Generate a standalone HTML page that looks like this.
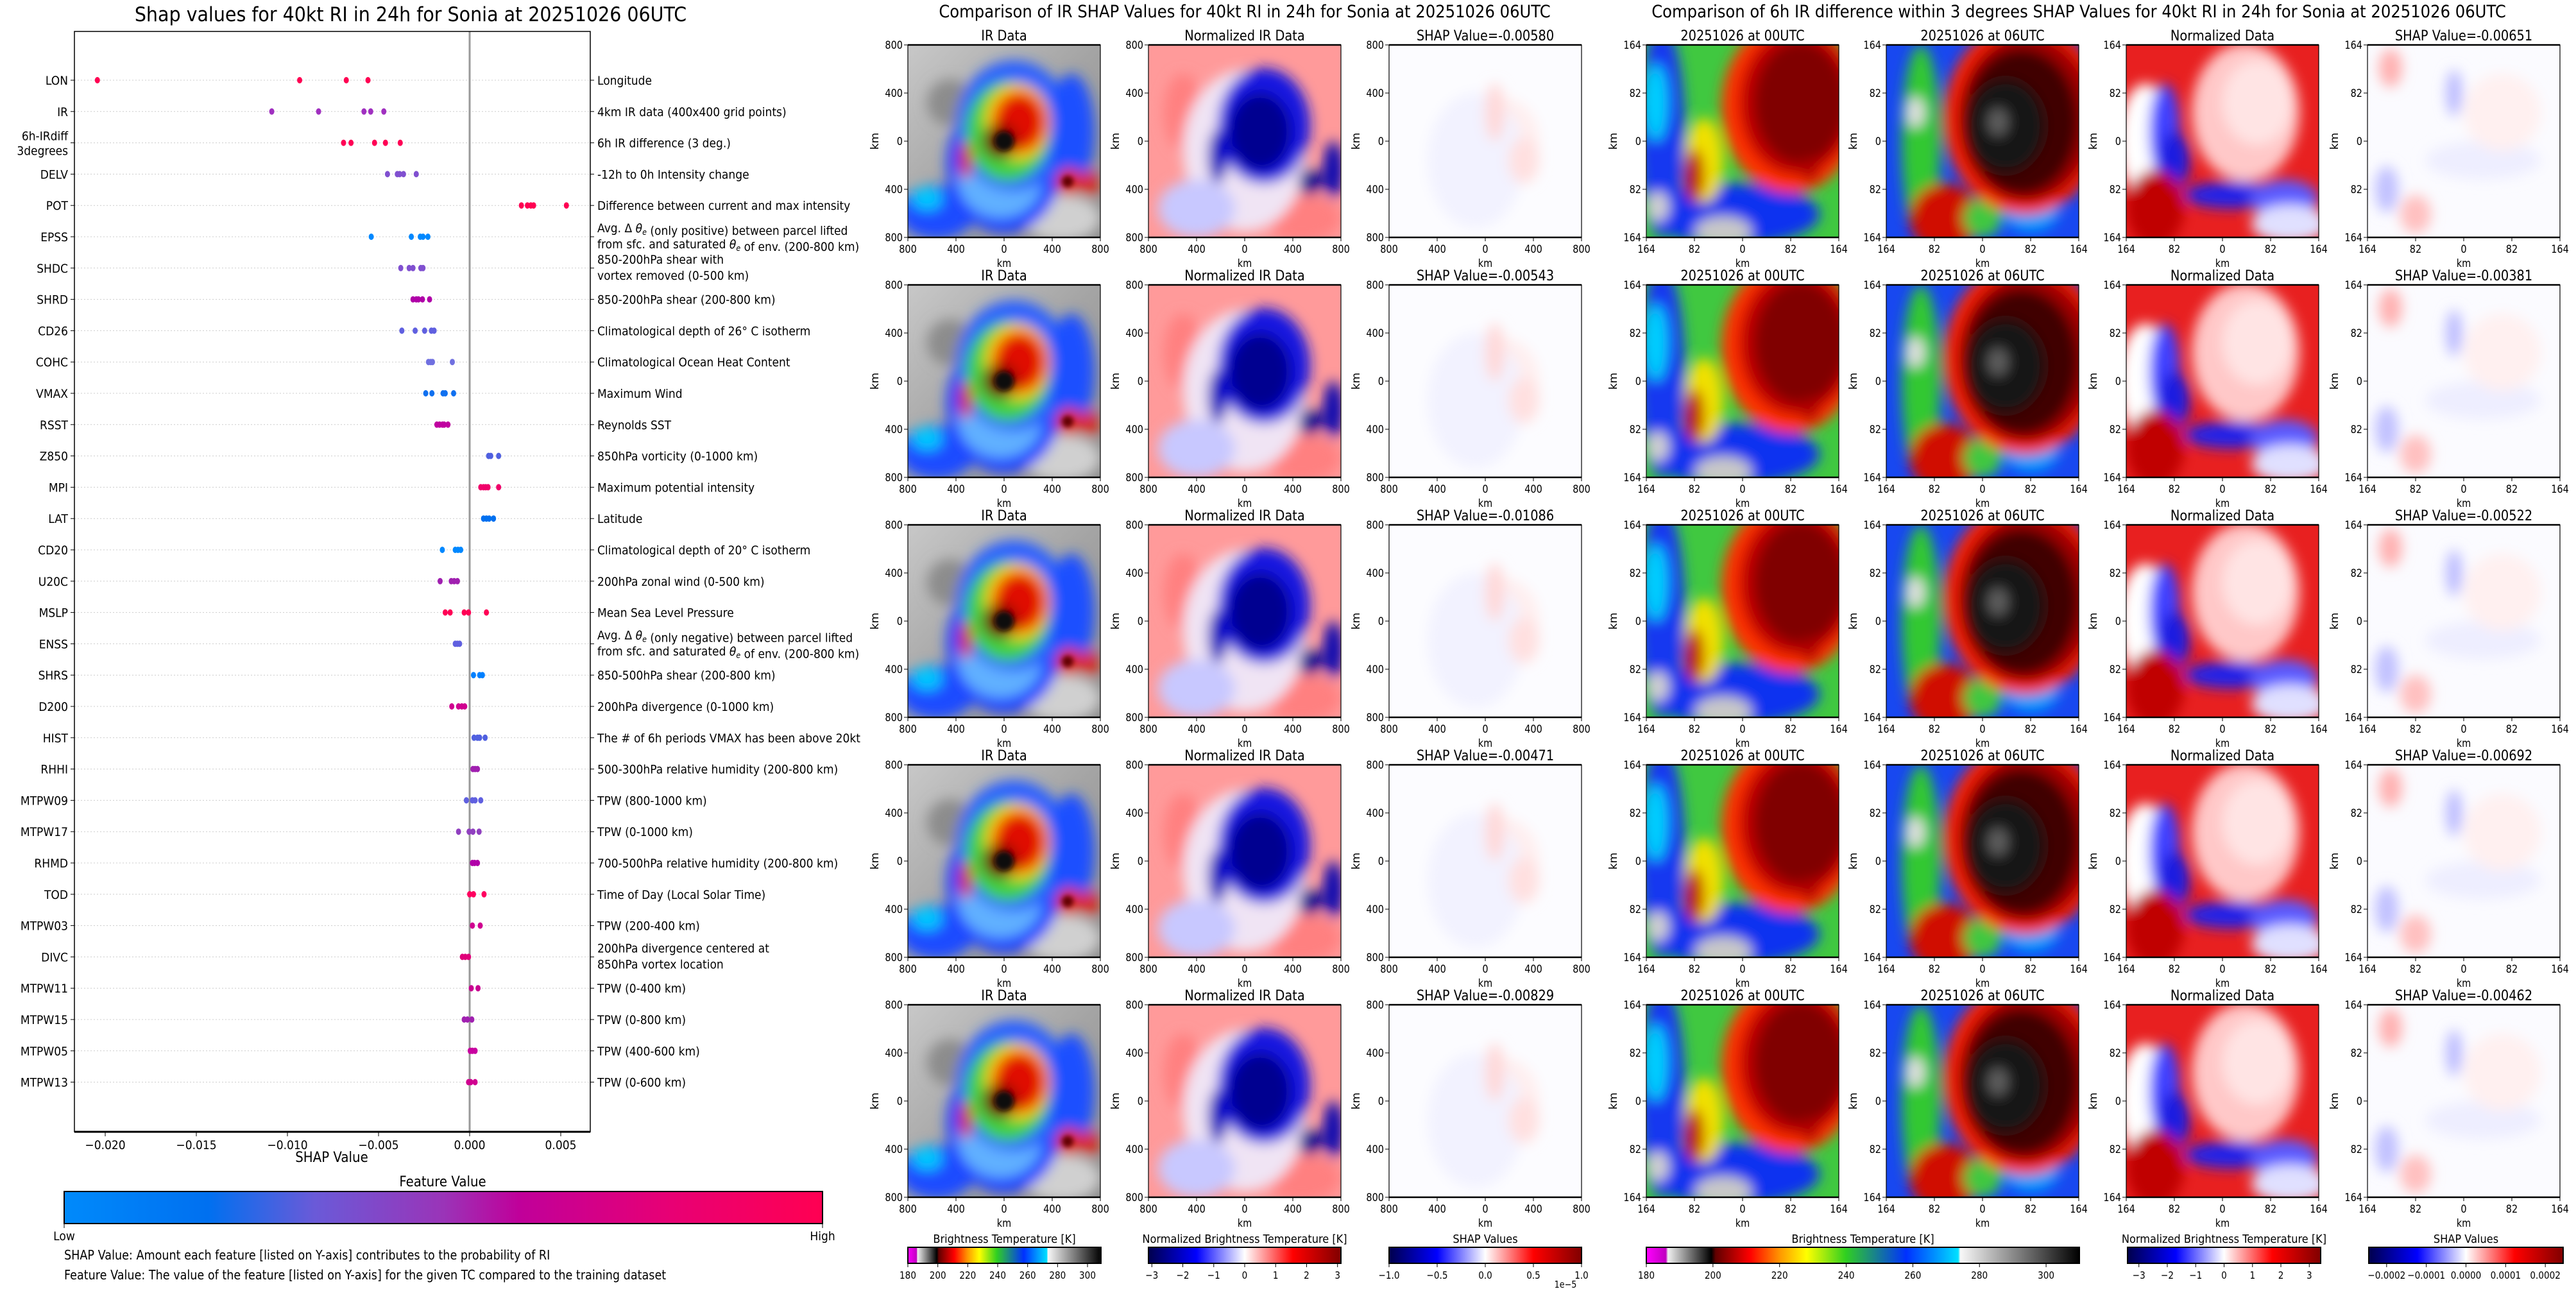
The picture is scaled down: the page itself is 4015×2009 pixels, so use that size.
<!DOCTYPE html>
<html><head><meta charset="utf-8"><style>
html,body{margin:0;padding:0;background:#fff;}
svg{display:block;font-family:"DejaVu Sans","Liberation Sans",sans-serif;}
</style></head><body>
<svg id="c" xmlns="http://www.w3.org/2000/svg" width="4015" height="2009" viewBox="0 0 4015 2009">
<defs>
<filter id="b12" x="-20%" y="-20%" width="140%" height="140%"><feGaussianBlur stdDeviation="10"/></filter>
<filter id="b5" x="-20%" y="-20%" width="140%" height="140%"><feGaussianBlur stdDeviation="4"/></filter>
<linearGradient id="shapcb" x1="0" x2="1" y1="0" y2="0">
<stop offset="0" stop-color="#008afb"/><stop offset="0.19" stop-color="#0070f0"/><stop offset="0.33" stop-color="#6a5ad8"/><stop offset="0.5" stop-color="#9a34b8"/><stop offset="0.6" stop-color="#c0009a"/><stop offset="0.8" stop-color="#e80074"/><stop offset="1" stop-color="#ff0052"/></linearGradient>
<linearGradient id="seismic" x1="0" x2="1" y1="0" y2="0">
<stop offset="0" stop-color="#00004c"/><stop offset="0.25" stop-color="#0000ff"/><stop offset="0.5" stop-color="#ffffff"/><stop offset="0.75" stop-color="#ff0000"/><stop offset="1" stop-color="#800000"/></linearGradient>
<linearGradient id="irmap" x1="0" x2="1" y1="0" y2="0">
<stop offset="0" stop-color="#ff00ff"/><stop offset="0.045" stop-color="#c000c0"/><stop offset="0.05" stop-color="#f0f0f0"/><stop offset="0.15" stop-color="#000000"/><stop offset="0.16" stop-color="#600000"/><stop offset="0.24" stop-color="#ff0000"/><stop offset="0.31" stop-color="#ff9a00"/><stop offset="0.37" stop-color="#ffff00"/><stop offset="0.46" stop-color="#30d020"/><stop offset="0.6" stop-color="#0030ff"/><stop offset="0.72" stop-color="#00e0ff"/><stop offset="0.725" stop-color="#f8f8f8"/><stop offset="1" stop-color="#000000"/></linearGradient>
<linearGradient id="graybg" x1="0" x2="1" y1="0" y2="1">
<stop offset="0" stop-color="#c8c8c8"/><stop offset="0.5" stop-color="#a4a4a4"/><stop offset="1" stop-color="#8c8c8c"/></linearGradient>
</defs>
<g id="root"></g>
</svg>
<script>
const features=["LON","IR","6h-IRdiff|3degrees","DELV","POT","EPSS","SHDC","SHRD","CD26","COHC","VMAX","RSST","Z850","MPI","LAT","CD20","U20C","MSLP","ENSS","SHRS","D200","HIST","RHHI","MTPW09","MTPW17","RHMD","TOD","MTPW03","DIVC","MTPW11","MTPW15","MTPW05","MTPW13"];
const descriptions=["Longitude","4km IR data (400x400 grid points)","6h IR difference (3 deg.)","-12h to 0h Intensity change","Difference between current and max intensity","Avg. Δ θe (only positive) between parcel lifted|from sfc. and saturated θe of env. (200-800 km)","850-200hPa shear with|vortex removed (0-500 km)","850-200hPa shear (200-800 km)","Climatological depth of 26° C isotherm","Climatological Ocean Heat Content","Maximum Wind","Reynolds SST","850hPa vorticity (0-1000 km)","Maximum potential intensity","Latitude","Climatological depth of 20° C isotherm","200hPa zonal wind (0-500 km)","Mean Sea Level Pressure","Avg. Δ θe (only negative) between parcel lifted|from sfc. and saturated θe of env. (200-800 km)","850-500hPa shear (200-800 km)","200hPa divergence (0-1000 km)","The # of 6h periods VMAX has been above 20kt","500-300hPa relative humidity (200-800 km)","TPW (800-1000 km)","TPW (0-1000 km)","700-500hPa relative humidity (200-800 km)","Time of Day (Local Solar Time)","TPW (200-400 km)","200hPa divergence centered at|850hPa vortex location","TPW (0-400 km)","TPW (0-800 km)","TPW (400-600 km)","TPW (0-600 km)"];
const shapValues=[
[-0.02043,-0.00933,-0.00677,-0.00558],
[-0.01086,-0.00829,-0.00580,-0.00543,-0.00471],
[-0.00692,-0.00651,-0.00522,-0.00462,-0.00381],
[-0.00451,-0.00397,-0.00384,-0.00363,-0.00293],
[0.00284,0.00317,0.00336,0.00351,0.00531],
[-0.0054,-0.0032,-0.00271,-0.00256,-0.00229],
[-0.00378,-0.00332,-0.00311,-0.00268,-0.00256],
[-0.00311,-0.00293,-0.00281,-0.00259,-0.0022],
[-0.00372,-0.00299,-0.00247,-0.0021,-0.00195],
[-0.00226,-0.00214,-0.00204,-0.00095],
[-0.00241,-0.00207,-0.00146,-0.00134,-0.00088],
[-0.0018,-0.00165,-0.00149,-0.0014,-0.00119],
[0.00104,0.00116,0.00159],
[0.00061,0.00076,0.00088,0.00101,0.00159],
[0.00076,0.00092,0.00107,0.00131],
[-0.0015,-0.00079,-0.00064,-0.00049],
[-0.00162,-0.00101,-0.00085,-0.00067],
[-0.00134,-0.00107,-0.0003,-0.00006,0.00092],
[-0.00079,-0.00067,-0.00055],
[0.00021,0.00055,0.0007],
[-0.00098,-0.00061,-0.00043,-0.00027],
[0.00024,0.00043,0.00055,0.00085],
[0.00018,0.0003,0.00043],
[-0.00018,0.00015,0.0003,0.00061],
[-0.00061,-0.00003,0.00018,0.00052],
[0.00015,0.00027,0.00043],
[0,0.00021,0.00079],
[0.00015,0.00058],
[-0.0004,-0.00024,-0.00006],
[0.00009,0.00046],
[-0.0003,-0.00012,0.00012],
[0.00003,0.00015,0.0003],
[-0.00006,0.00006,0.0003]];
const dotColors=["#ff0052","#a030c0","#ff0055","#8050d0","#ff0052","#0088ff","#8050d0","#b000a8","#6060e0","#7070e0","#1070f0","#c000a0","#5060e0","#f0006a","#0070f0","#0088ff","#a020b0","#ff0055","#6060e0","#0080ff","#d00090","#5060e0","#a020b0","#6060e0","#9040c0","#b000a8","#ff0060","#d00090","#e0007a","#c80090","#a020b0","#c800a0","#d00090"];
const xTicks=[-0.02,-0.015,-0.01,-0.005,0,0.005];
const xTickLabels=["−0.020","−0.015","−0.010","−0.005","0.000","0.005"];
const irShap=[-0.00580,-0.00543,-0.01086,-0.00471,-0.00829];
const diffShap=[-0.00651,-0.00381,-0.00522,-0.00692,-0.00462];
const kmTicks=["800","400","0","400","800"];
const degTicks=["164","82","0","82","164"];
const cbIrTicks=[180,200,220,240,260,280,300];
const cbNormTicks=[-3,-2,-1,0,1,2,3];
const cbShapIrTicks=[-1.0,-0.5,0.0,0.5,1.0];
const cbShapDiffTicks=[-0.0002,-0.0001,0,0.0001,0.0002];
const cbShapDiffLabels=["−0.0002","−0.0001","0.0000","0.0001","0.0002"];

const NS="http://www.w3.org/2000/svg";
const root=document.getElementById('root');
function E(tag,attrs,parent){const e=document.createElementNS(NS,tag);for(const k in attrs)e.setAttribute(k,attrs[k]);(parent||root).appendChild(e);return e;}
function T(x,y,s,size,anchor,name,sx,parent){
  const t=E('text',{x:0,y:0,'font-size':size,'text-anchor':anchor||'start',fill:'#000',transform:`translate(${x},${y}) scale(${sx||1},1)`},parent);
  
  
  const m=s.split('θe');
  m.forEach((part,i)=>{ if(part){const sp=E('tspan',{},t);sp.textContent=part;} if(i<m.length-1){const a=E('tspan',{'font-style':'italic'},t);a.textContent='θ';const b=E('tspan',{'font-size':size*0.65,dy:4,'font-style':'italic'},t);b.textContent='e';const c=E('tspan',{dy:-4},t);c.textContent='';}});
  return t;
}
function xScale(v){return 732+v/0.005*142;}
function yScale(i){return 125+i*48.8;}

// ---------- SHAP summary panel ----------
T(640,33,"Shap values for 40kt RI in 24h for Sonia at 20251026 06UTC",31,'middle','shap-title',0.92);
const pl=116,pr=920,pt=49,pb=1764;
features.forEach((f,i)=>{
  const y=yScale(i);
  const g=E('line',{x1:pl,x2:pr,y1:y,y2:y,stroke:'#cccccc','stroke-width':1,'stroke-dasharray':'2,3'});
  
  
  E('line',{x1:pl-6,x2:pl,y1:y,y2:y,stroke:'#000'});
  E('line',{x1:pr,x2:pr+6,y1:y,y2:y,stroke:'#000'});
  const fl=f.split('|');
  if(fl.length===1) T(106,y+7,f,19,'end','feature-label',0.9);
  else {T(106,y-4,fl[0],19,'end','feature-label',0.9);T(106,y+19,fl[1],19,'end','feature-label',0.9);}
  const dl=descriptions[i].split('|');
  if(dl.length===1) T(931,y+7,dl[0],19,'start','feature-description',0.9);
  else {T(931,y-7,dl[0],19,'start','feature-description',0.9);T(931,y+18,dl[1],19,'start','feature-description',0.9);}
});
const zl=E('line',{x1:xScale(0),x2:xScale(0),y1:pt,y2:pb,stroke:'#999','stroke-width':3});


shapValues.forEach((row,i)=>{
  row.forEach(v=>{
    const d=E('ellipse',{cx:xScale(v),cy:yScale(i),rx:4,ry:5,fill:dotColors[i]});
    
    
  });
});
const fr=E('rect',{x:pl,y:pt,width:pr-pl,height:pb-pt,fill:'none',stroke:'#000','stroke-width':1.5});


E('line',{x1:pl,x2:pr,y1:pb,y2:pb,stroke:'#000','stroke-width':3});
xTicks.forEach((v,i)=>{
  E('line',{x1:xScale(v),x2:xScale(v),y1:pb,y2:pb+7,stroke:'#000'});
  T(xScale(v),pb+27,xTickLabels[i],19,'middle','x-tick-label',0.9);
});
T(517,pb+47,"SHAP Value",22,'middle','x-axis-title',0.9);
T(690,1849,"Feature Value",22,'middle','colorbar-title',0.9);
const cb=E('rect',{x:100,y:1857,width:1182,height:50,fill:'url(#shapcb)',stroke:'#000','stroke-width':2});


E('line',{x1:100,x2:100,y1:1907,y2:1914,stroke:'#000'});E('line',{x1:1282,x2:1282,y1:1907,y2:1914,stroke:'#000'});
T(100,1933,"Low",19,'middle','colorbar-low',0.9);
T(1282,1933,"High",19,'middle','colorbar-high',0.9);
T(100,1963,"SHAP Value: Amount each feature [listed on Y-axis] contributes to the probability of RI",20,'start','note-shap',0.88);
T(100,1994,"Feature Value: The value of the feature [listed on Y-axis] for the given TC compared to the training dataset",20,'start','note-feature',0.88);

// ---------- image panels ----------
T(1940,27,"Comparison of IR SHAP Values for 40kt RI in 24h for Sonia at 20251026 06UTC",27,'middle','ir-group-title',0.9);
T(3240,27,"Comparison of 6h IR difference within 3 degrees SHAP Values for 40kt RI in 24h for Sonia at 20251026 06UTC",27,'middle','diff-group-title',0.9);
const midCols=[1415,1790,2165], rightCols=[2566,2940,3314,3690], rowTops=[70,444,818,1192,1566];
const PW=300,PH=300;
let clipId=0;
const blobs={
 ir:{bg:'url(#graybg)',e:[[.22,.3,.12,.12,'#8c8c8c'],[.8,.9,.2,.12,'#d0d0d0'],[.15,.87,.2,.14,'#1a4cff'],[.1,.8,.08,.06,'#00c8ff'],[.5,.62,.3,.36,'#1a40ff'],[.48,.7,.22,.2,'#60b0ff'],[.55,.42,.3,.34,'#2a60ff'],[.85,.45,.12,.3,'#1a50ff'],[.52,.45,.22,.26,'#40d040'],[.57,.4,.17,.2,'#f0e000'],[.58,.4,.15,.17,'#ff7000'],[.58,.4,.12,.14,'#e01000'],[.48,.5,.09,.09,'#700000'],[.84,.71,.07,.07,'#e02000'],[.95,.72,.04,.07,'#e02000'],[.3,.6,.03,.1,'#e02000']],
     sharp:[[.5,.5,.05,.05,'#101010'],[.83,.71,.03,.03,'#600000']]},
 norm:{bg:'#ff9a9a',e:[[.18,.35,.1,.2,'#ff8080'],[.8,.9,.2,.12,'#ff8080'],[.5,.55,.32,.42,'#f0e4f4'],[.25,.85,.2,.15,'#c8c8ff'],[.6,.42,.24,.3,'#1414e0'],[.58,.45,.16,.2,'#000090'],[.84,.71,.06,.07,'#000090'],[.96,.65,.05,.15,'#0000b0'],[.36,.58,.05,.14,'#0000c0']],sharp:[]},
 shapir:{bg:'#fcfcff',e:[[.6,.5,.18,.22,'#ffeeee'],[.45,.6,.25,.35,'#f2f2ff'],[.55,.35,.05,.15,'#ffd8d8'],[.7,.6,.08,.12,'#ffe0e0']],sharp:[]},
 d00:{bg:'#40c840',e:[[.08,.45,.12,.55,'#1838f0'],[.05,.3,.06,.2,'#00d0ff'],[.45,.88,.45,.16,'#1030f0'],[.4,.97,.15,.08,'#c8c8c8'],[.06,.84,.06,.08,'#d0d0d0'],[.3,.6,.1,.22,'#f0e000'],[.25,.68,.05,.14,'#c00000'],[.75,.32,.36,.45,'#ff3000'],[.78,.3,.3,.38,'#c00000'],[.8,.3,.24,.32,'#800000'],[.85,.65,.05,.06,'#b00000']],sharp:[]},
 d06:{bg:'#1848f0',e:[[.18,.5,.1,.5,'#30c830'],[.15,.35,.05,.08,'#e0e0e0'],[.3,.9,.18,.18,'#d01000'],[.5,.9,.1,.1,'#40c840'],[.75,.85,.15,.12,'#00a0ff'],[.72,.38,.42,.5,'#ff2000'],[.73,.38,.36,.44,'#a00000'],[.7,.4,.3,.38,'#400000'],[.62,.42,.2,.24,'#181818'],[.58,.4,.05,.07,'#606060']],sharp:[]},
 ndat:{bg:'#e82020',e:[[.1,.5,.14,.3,'#ffffff'],[.62,.35,.28,.36,'#ffc8c8'],[.68,.3,.18,.22,'#ffe4e4'],[.2,.45,.08,.25,'#4040ff'],[.25,.6,.08,.15,'#1a1ae0'],[.55,.78,.25,.07,'#2020e8'],[.82,.8,.18,.1,'#5a5aff'],[.85,.93,.2,.1,'#e0e0ff'],[.15,.85,.15,.2,'#c00000']],sharp:[]},
 shapd:{bg:'#fbfbff',e:[[.12,.12,.06,.1,'#ffb0b0'],[.45,.25,.04,.12,'#b8b8ff'],[.25,.88,.08,.1,'#ffc0c0'],[.1,.75,.06,.12,'#c0c0ff'],[.6,.6,.3,.1,'#eeeeff'],[.7,.35,.2,.2,'#fff0f0']],sharp:[]}
};
function drawImg(type,x,y,name){
  const id='cp'+(clipId++);
  const cp=E('clipPath',{id:id});E('rect',{x:x,y:y,width:PW,height:PH},cp);
  const g=E('g',{'clip-path':`url(#${id})`});
  
  
  const b=blobs[type];
  E('rect',{x:x,y:y,width:PW,height:PH,fill:b.bg},g);
  const bg=E('g',{filter:'url(#b12)'},g);
  b.e.forEach(q=>E('ellipse',{cx:x+q[0]*PW,cy:y+q[1]*PH,rx:q[2]*PW,ry:q[3]*PH,fill:q[4]},bg));
  const sg=E('g',{filter:'url(#b5)'},g);
  b.sharp.forEach(q=>E('ellipse',{cx:x+q[0]*PW,cy:y+q[1]*PH,rx:q[2]*PW,ry:q[3]*PH,fill:q[4]},sg));
  E('rect',{x:x,y:y,width:PW,height:PH,fill:'none',stroke:'#000','stroke-width':1.2});
  E('line',{x1:x,x2:x+PW,y1:y,y2:y,stroke:'#000','stroke-width':2.5});
  E('line',{x1:x,x2:x+PW,y1:y+PH,y2:y+PH,stroke:'#000','stroke-width':2.5});
}
function axes(x,y,ticks){
  ticks.forEach((t,i)=>{
    const px=x+i*PW/4, py=y+i*PH/4;
    E('line',{x1:px,x2:px,y1:y+PH,y2:y+PH+6,stroke:'#000'});
    T(px,y+PH+24,t,17,'middle','x-tick-label',0.85);
    E('line',{x1:x-6,x2:x,y1:py,y2:py,stroke:'#000'});
    T(x-8,py+6,t,17,'end','y-tick-label',0.85);
  });
  T(x+PW/2,y+PH+46,"km",17,'middle','x-axis-title',0.85);
  const k=T(0,0,"km",17,'middle','y-axis-title',1);
  k.setAttribute('transform',`translate(${x-46},${y+PH/2}) rotate(-90)`);
}
rowTops.forEach((ty,r)=>{
  const titles1=["IR Data","Normalized IR Data","SHAP Value="+irShap[r].toFixed(5)];
  const types1=['ir','norm','shapir'];
  midCols.forEach((cx,c)=>{
    drawImg(types1[c],cx,ty,'ir-panel-'+types1[c]);
    T(cx+PW/2,ty-7,titles1[c],22,'middle','panel-title',0.88);
    axes(cx,ty,kmTicks);
  });
  const titles2=["20251026 at 00UTC","20251026 at 06UTC","Normalized Data","SHAP Value="+diffShap[r].toFixed(5)];
  const types2=['d00','d06','ndat','shapd'];
  rightCols.forEach((cx,c)=>{
    drawImg(types2[c],cx,ty,'diff-panel-'+types2[c]);
    T(cx+PW/2,ty-7,titles2[c],22,'middle','panel-title',0.88);
    axes(cx,ty,degTicks);
  });
});
function colorbar(x0,x1,fill,vmin,vmax,ticks,labels,title,name){
  const y0=1944,h=25;
  T((x0+x1)/2,1937,title,18,'middle','colorbar-title',0.9);
  const r=E('rect',{x:x0,y:y0,width:x1-x0,height:h,fill:fill,stroke:'#000','stroke-width':2});
  
  
  ticks.forEach((t,i)=>{
    const px=x0+(t-vmin)/(vmax-vmin)*(x1-x0);
    E('line',{x1:px,x2:px,y1:y0+h,y2:y0+h+6,stroke:'#000'});
    T(px,y0+h+24,labels?labels[i]:String(t).replace('-','−'),16,'middle','colorbar-tick',0.85);
  });
}
colorbar(1415,1716,'url(#irmap)',180,309,cbIrTicks,null,"Brightness Temperature [K]",'ir-colorbar');
colorbar(1790,2090,'url(#seismic)',-3.11,3.11,cbNormTicks,null,"Normalized Brightness Temperature [K]",'norm-colorbar');
colorbar(2165,2465,'url(#seismic)',-1,1,cbShapIrTicks,["−1.0","−0.5","0.0","0.5","1.0"],"SHAP Values",'shap-ir-colorbar');
T(2440,2007,"1e−5",15,'middle','colorbar-exponent',0.85);
colorbar(2566,3241,'url(#irmap)',180,310,cbIrTicks,null,"Brightness Temperature [K]",'diff-ir-colorbar');
colorbar(3316,3617,'url(#seismic)',-3.4,3.4,cbNormTicks,null,"Normalized Brightness Temperature [K]",'diff-norm-colorbar');
colorbar(3692,3995,'url(#seismic)',-0.000245,0.000245,cbShapDiffTicks,cbShapDiffLabels,"SHAP Values",'diff-shap-colorbar');
</script>
</body></html>
